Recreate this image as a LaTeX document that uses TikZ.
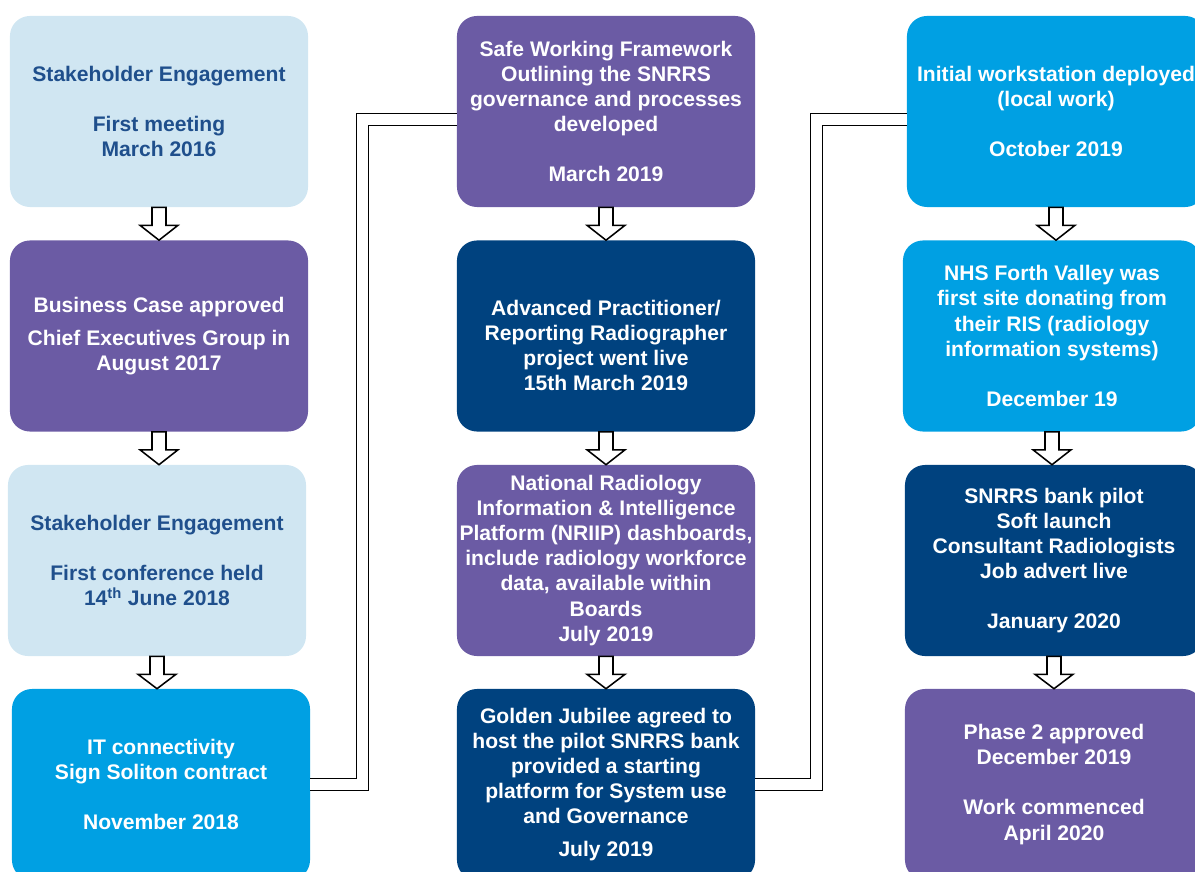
\documentclass[tikz,border=0pt]{standalone}
\usepackage{fontspec}
\setmainfont{Liberation Sans}
\usetikzlibrary{calc}
\definecolor{paleblue}{HTML}{D0E6F2}
\definecolor{paletext}{HTML}{1F4F8C}
\definecolor{stepviolet}{HTML}{6B5BA4}
\definecolor{navyblue}{HTML}{00427F}
\definecolor{brightblue}{HTML}{00A0E3}
\tikzset{step_box/.style={rounded corners=0.5cm, minimum width=7.45cm, minimum height=4.775cm, align=center, inner sep=0pt, font=\fontsize{15}{17.8}\selectfont\bfseries, text=white}}
\tikzset{pale_box/.style={step_box, fill=paleblue, text=paletext}}
\tikzset{violet_box/.style={step_box, fill=stepviolet}}
\tikzset{navy_box/.style={step_box, fill=navyblue}}
\tikzset{bright_box/.style={step_box, fill=brightblue}}
\tikzset{block_arrow/.style={draw=black, fill=white, line width=1.1pt, line join=miter}}
\tikzset{double_link/.style={draw=black, line width=0.9pt, double=white, double distance=7.6pt}}

\begin{document}
\begin{tikzpicture}[x=0.025cm, y=-0.025cm]
    \useasboundingbox (0,0) rectangle (1195,872);
    \node[pale_box] (s11) at (159,111.5) {Stakeholder Engagement\\[17.8pt]First meeting\\March 2016};
    \node[violet_box] (s12) at (159,336) {Business Case approved\\[0.2cm]Chief Executives Group in\\August 2017};
    \node[pale_box] (s13) at (157,560.5) {Stakeholder Engagement\\[17.8pt]First conference held\\14\textsuperscript{th} June 2018};
    \node[bright_box] (s14) at (161,784.5) {IT connectivity\\Sign Soliton contract\\[17.8pt]November 2018};
    \node[violet_box] (s21) at (606,111.5) {Safe Working Framework\\Outlining the SNRRS\\governance and processes\\developed\\[17.8pt]March 2019};
    \node[navy_box] (s22) at (606,336) {\mbox{}\\[7pt]Advanced Practitioner/\\Reporting Radiographer\\project went live\\15th March 2019};
    \node[violet_box] (s23) at (606,560.5) {National Radiology\\Information \& Intelligence\\Platform (NRIIP) dashboards,\\include radiology workforce\\data, available within\\Boards\\July 2019};
    \node[navy_box] (s24) at (606,784.5) {Golden Jubilee agreed to\\host the pilot SNRRS bank\\provided a starting\\platform for System use\\and Governance\\[0.2cm]July 2019};
    \node[bright_box] (s31) at (1056,111.5) {Initial workstation deployed\\(local work)\\[17.8pt]October 2019};
    \node[bright_box] (s32) at (1052,336) {NHS Forth Valley was\\first site donating from\\their RIS (radiology\\information systems)\\[17.8pt]December 19};
    \node[navy_box] (s33) at (1054,560.5) {SNRRS bank pilot\\Soft launch\\Consultant Radiologists\\Job advert live\\[17.8pt]January 2020};
    \node[violet_box] (s34) at (1054,784.5) {Phase 2 approved\\December 2019\\[17.8pt]Work commenced\\April 2020};
    \foreach \a/\b in {s11/s12, s12/s13, s13/s14, s21/s22, s22/s23, s23/s24, s31/s32, s32/s33, s33/s34}
      \draw[block_arrow] ($(\a.south)+(-7,0)$) -- ($(\a.south)+(7,0)$) -- ($(\a.south)+(7,18)$) -- ($(\a.south)+(19,18)$) -- (\a.south |- \b.north) -- ($(\a.south)+(-19,18)$) -- ($(\a.south)+(-7,18)$) -- cycle;
    \draw[double_link] (s14.east) -- ++(52,0) |- ([yshift=-0.2cm]s21.west);
    \draw[double_link] (s24.east) -- ++(61,0) |- ([yshift=-0.2cm]s31.west);
  \end{tikzpicture}
\end{document}
